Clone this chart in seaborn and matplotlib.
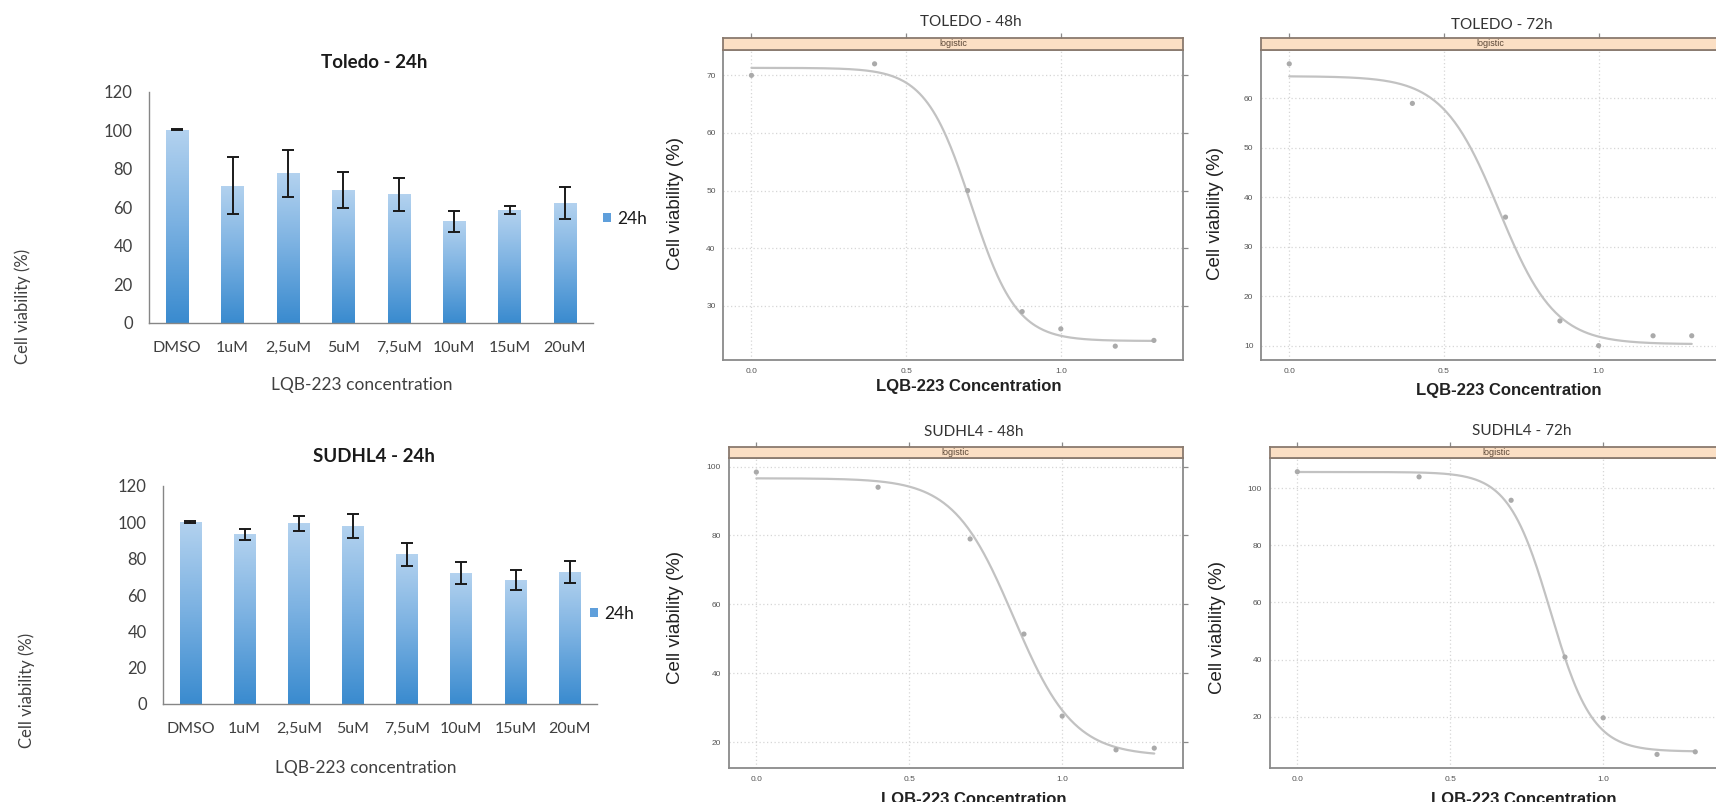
import numpy as np
import pandas as pd
import matplotlib
matplotlib.use("Agg")
import matplotlib.pyplot as plt
import seaborn as sns
from matplotlib.colors import LinearSegmentedColormap
from matplotlib.patches import Patch

# ---------------- data ----------------
concentrations = ["DMSO", "1uM", "2,5uM", "5uM", "7,5uM", "10uM", "15uM", "20uM"]
toledo_24h_mean = [100.2, 71.3, 77.7, 68.9, 66.8, 52.7, 58.5, 62.3]
toledo_24h_err = [0.3, 14.7, 12.3, 9.2, 8.6, 5.5, 2.0, 8.2]
sudhl4_24h_mean = [100.2, 93.4, 99.4, 98.0, 82.4, 72.1, 68.3, 72.8]
sudhl4_24h_err = [0.3, 3.1, 4.0, 6.6, 6.2, 5.9, 5.5, 6.0]

log_conc = [0.0, 0.398, 0.699, 0.875, 1.0, 1.176, 1.301]
toledo_48h_viab = [70, 72, 50, 29, 26, 23, 24]
toledo_72h_viab = [67, 59, 36, 15, 10, 12, 12]
sudhl4_48h_viab = [98.4, 94, 79, 51.4, 27.6, 17.8, 18.3]
sudhl4_72h_viab = [105.8, 104, 95.8, 40.9, 19.6, 6.8, 7.7]

# logistic fit parameters: top, bottom, midpoint, slope
toledo_48h_fit = [71.3, 23.9, 0.710, 13.6]
toledo_72h_fit = [64.5, 10.3, 0.678, 11.0]
sudhl4_48h_fit = [96.6, 16.0, 0.841, 10.2]
sudhl4_72h_fit = [105.7, 7.8, 0.828, 14.6]

lattice_xticks = [0.0, 0.5, 1.0]
lattice_xticklabels = ["0.0", "0.5", "1.0"]

# ---------------- style ----------------
sns.set_style("white")
EXCEL_FONT = ["Lato", "DejaVu Sans"]
R_FONT = ["Liberation Sans", "DejaVu Sans"]
plt.rcParams["font.family"] = EXCEL_FONT

W, H = 1716, 802
fig = plt.figure(figsize=(W / 100, H / 100), dpi=100)
fig.patch.set_facecolor("white")


def fx(x):
    return x / W


def fy(y):
    return 1 - y / H


def px_rect(L, R, T, B):
    return [L / W, 1 - B / H, (R - L) / W, (B - T) / H]


bar_cmap = LinearSegmentedColormap.from_list("excel", ["#3a8bcf", "#79b0e1", "#b3d2ef"])
grad = np.linspace(0, 1, 128).reshape(-1, 1)
AX_GREY = "#868686"
TXT = "#404040"


def bar_panel(rect, means, errs, title, title_xy, ylab_xy, xlab_xy, leg_xy):
    ax = fig.add_axes(px_rect(*rect))
    df = pd.DataFrame({"conc": concentrations, "viab": means})
    sns.barplot(data=df, x="conc", y="viab", ax=ax, width=0.4, color="#6fa8dc",
                saturation=1, errorbar=None)
    for p in list(ax.patches):
        x0, y0 = p.get_x(), p.get_y()
        w, h = p.get_width(), p.get_height()
        im = ax.imshow(grad, extent=[x0, x0 + w, y0, y0 + h], origin="lower",
                       cmap=bar_cmap, aspect="auto", zorder=p.get_zorder() + 0.1)
        im.set_clip_path(p)
    ax.errorbar(np.arange(len(concentrations)), means, yerr=errs, fmt="none",
                ecolor="#1a1a1a", elinewidth=1.4, capsize=4, capthick=1.4, zorder=5)
    ax.set_xlim(-0.5, len(concentrations) - 0.5)
    ax.set_ylim(0, 120)
    ax.set_yticks(range(0, 121, 20))
    ax.set_xlabel("")
    ax.set_ylabel("")
    for s in ["top", "right"]:
        ax.spines[s].set_visible(False)
    for s in ["left", "bottom"]:
        ax.spines[s].set_color(AX_GREY)
        ax.spines[s].set_linewidth(1.0)
    ax.set_xticks(np.arange(-0.5, len(concentrations)), minor=True)
    ax.tick_params(axis="x", which="major", length=0, pad=13, labelsize=11.5, labelcolor=TXT)
    ax.tick_params(axis="x", which="minor", length=4, width=1, color=AX_GREY, direction="out")
    ax.tick_params(axis="y", which="major", length=3, width=1, color=AX_GREY, direction="out",
                   pad=9, labelsize=12, labelcolor=TXT)
    ax.set_facecolor("none")
    fig.text(fx(title_xy[0]), fy(title_xy[1]), title, ha="center", va="center",
             fontsize=13.5, fontweight="bold", color="#1a1a1a")
    fig.text(fx(ylab_xy[0]), fy(ylab_xy[1]), "Cell viability (%)", rotation=90,
             ha="center", va="center", fontsize=12, color=TXT)
    fig.text(fx(xlab_xy[0]), fy(xlab_xy[1]), "LQB-223 concentration", ha="center",
             va="center", fontsize=12.5, color=TXT)
    fig.legend(handles=[Patch(facecolor="#5f9fdb", edgecolor="none")], labels=["24h"],
               loc="center left", bbox_to_anchor=(fx(leg_xy[0]), fy(leg_xy[1])),
               frameon=False, handlelength=0.45, handleheight=0.45, handletextpad=0.35,
               borderpad=0, borderaxespad=0, prop={"family": EXCEL_FONT, "size": 12.5},
               labelcolor="#1a1a1a")
    return ax


bar_panel((149.4, 592.6, 91.7, 323), toledo_24h_mean, toledo_24h_err, "Toledo - 24h",
          (373.7, 63), (23, 306), (362, 385), (603, 219))
bar_panel((163.3, 596.8, 486, 704), sudhl4_24h_mean, sudhl4_24h_err, "SUDHL4 - 24h",
          (373.7, 456), (27, 690), (366, 768), (590, 614))

# ---------------- lattice-style logistic panels ----------------
FRAME = "#8a8a8a"


def lattice_panel(rect, strip_top, viab, fit, ylim, yticks, title, title_xy, ylab_xy,
                  xlab_xy, xlab_va="center"):
    L, R, T, B = rect
    xlim = (-0.091, 1.394)
    ax = fig.add_axes(px_rect(L, R, T, B))
    top, bottom, mid, slope = fit
    xfit = np.linspace(log_conc[0], log_conc[-1], 300)
    yfit = bottom + (top - bottom) / (1 + np.exp(slope * (xfit - mid)))
    sns.lineplot(x=xfit, y=yfit, ax=ax, color="#c2c2c2", linewidth=1.6, zorder=3)
    sns.scatterplot(x=log_conc, y=viab, ax=ax, color="#aaaaaa", s=14, edgecolor="none",
                    zorder=4)
    ax.set_xlim(*xlim)
    ax.set_ylim(*ylim)
    ax.set_xticks(lattice_xticks)
    ax.set_xticklabels(lattice_xticklabels)
    ax.set_yticks(yticks)
    ax.set_yticklabels([str(v) for v in yticks])
    ax.grid(True, linestyle=(0, (1, 2)), color="#d6d6d6", linewidth=0.9)
    ax.set_axisbelow(True)
    for s in ax.spines.values():
        s.set_color(FRAME)
        s.set_linewidth(1.3)
    ax.tick_params(axis="both", which="both", direction="out", length=3.5, width=0.9,
                   color=FRAME, labelsize=6, labelcolor="#555555", pad=2)
    ax.tick_params(axis="y", right=True, labelright=False)
    ax.tick_params(axis="x", top=False)
    for lab in ax.get_xticklabels() + ax.get_yticklabels():
        lab.set_family(R_FONT)
    ax.set_xlabel("")
    ax.set_ylabel("")

    sax = fig.add_axes(px_rect(L, R, strip_top, T))
    sax.set_facecolor("#fbdfc4")
    sax.set_xlim(*xlim)
    sax.set_ylim(0, 1)
    sax.set_xticks(lattice_xticks)
    sax.set_yticks([])
    sax.tick_params(axis="x", top=True, bottom=False, labeltop=False, labelbottom=False,
                    direction="out", length=3.5, width=0.9, color=FRAME)
    for s in sax.spines.values():
        s.set_color("#8a7a6e")
        s.set_linewidth(1.3)
    sax.text(0.5, 0.5, "logistic", transform=sax.transAxes, ha="center", va="center",
             fontsize=6.5, color="#5a4636", family=R_FONT)

    fig.text(fx(title_xy[0]), fy(title_xy[1]), title, ha="center", va="center",
             fontsize=11, color="#333333", family=EXCEL_FONT)
    fig.text(fx(ylab_xy[0]), fy(ylab_xy[1]), "Cell viability (%)", rotation=90,
             ha="center", va="center", fontsize=13.5, color="#222222", family=R_FONT)
    fig.text(fx(xlab_xy[0]), fy(xlab_xy[1]), "LQB-223 Concentration", ha="center",
             va=xlab_va, fontsize=12, fontweight="bold", color="#222222", family=R_FONT)
    return ax


lattice_panel((723.3, 1182.7, 50, 360), 38, toledo_48h_viab, toledo_48h_fit,
              (20.6, 74.4), [30, 40, 50, 60, 70], "TOLEDO - 48h",
              (971.3, 22), (676, 203), (968.5, 386.7))
lattice_panel((1261.1, 1720.5, 50, 360), 38, toledo_72h_viab, toledo_72h_fit,
              (7.1, 69.8), [10, 20, 30, 40, 50, 60], "TOLEDO - 72h",
              (1502, 25), (1215, 213), (1508.7, 390))
lattice_panel((728.5, 1182.7, 458.3, 768.3), 446.7, sudhl4_48h_viab, sudhl4_48h_fit,
              (12.45, 102.4), [20, 40, 60, 80, 100], "SUDHL4 - 48h",
              (973.7, 431.7), (676, 617), (973.7, 792), "top")
lattice_panel((1269.5, 1723.7, 458.3, 768.3), 446.7, sudhl4_72h_viab, sudhl4_72h_fit,
              (1.93, 110.5), [20, 40, 60, 80, 100], "SUDHL4 - 72h",
              (1522, 431), (1217, 627), (1523.8, 792), "top")

fig.savefig("out.png", dpi=100, facecolor="white")
